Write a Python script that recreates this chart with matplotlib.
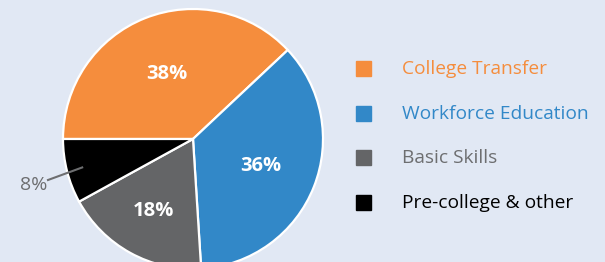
import numpy as np
import matplotlib
matplotlib.use("Agg")
import matplotlib.pyplot as plt
from matplotlib.patches import Rectangle

plt.rcParams['font.family'] = ['Open Sans', 'DejaVu Sans']

# chart data
categories = ["College Transfer", "Workforce Education", "Basic Skills", "Pre-college & other"]
shares = [38, 36, 18, 8]
colors = ["#F58D3D", "#3288C8", "#646567", "#000000"]
text_colors = ["#F58D3D", "#3288C8", "#6D6E70", "#000000"]
bg = "#E1E8F4"

W, H = 605, 262
fig = plt.figure(figsize=(W / 100, H / 100), dpi=100, facecolor=bg)
ax = fig.add_axes([0, 0, 1, 1])
ax.set_facecolor(bg)

cx, cy, r = 193, H - 139, 130
wedges, _ = ax.pie(shares, colors=colors, startangle=180, counterclock=False,
                   center=(cx, cy), radius=r, frame=True,
                   wedgeprops=dict(edgecolor='white', linewidth=1.6))
ax.set_xlim(0, W)
ax.set_ylim(0, H)
ax.set_aspect('equal')
ax.axis('off')

# percentage labels inside the big wedges
label_r = [0.54, 0.56, 0.63]
for w, s, lr in zip(wedges[:3], shares[:3], label_r):
    ang = np.deg2rad((w.theta1 + w.theta2) / 2)
    ax.text(cx + lr * r * np.cos(ang), cy + lr * r * np.sin(ang), f"{s}%",
            color='white', fontsize=14.5, fontweight='bold', ha='center', va='center')

# small slice: label outside with leader line
w = wedges[3]
ang = np.deg2rad((w.theta1 + w.theta2) / 2)
px, py = cx + 0.88 * r * np.cos(ang), cy + 0.88 * r * np.sin(ang)
ax.plot([px, 48], [py, H - 180], color='#6D6E70', lw=1.5)
ax.text(47, H - 185, f"{shares[3]}%", color='#6D6E70', fontsize=14, ha='right', va='center')

# legend
for i, (lab, col, tc) in enumerate(zip(categories, colors, text_colors)):
    y = H - (69 + i * 44.7)
    ax.add_patch(Rectangle((356, y - 7), 15, 15, color=col))
    ax.text(402, y, lab, color=tc, fontsize=13.8, ha='left', va='center')

fig.savefig("out.png", dpi=100, facecolor=bg)
